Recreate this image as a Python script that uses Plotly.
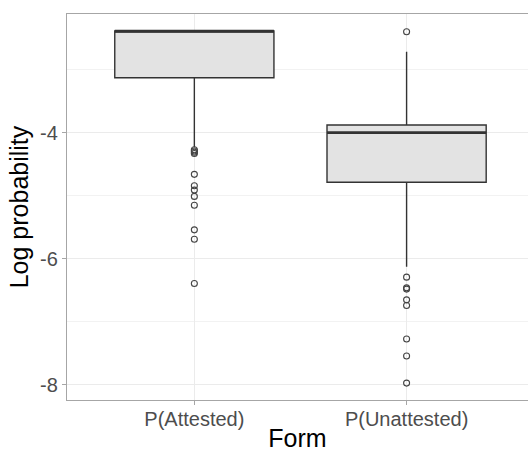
import plotly.graph_objects as go

categories = ["P(Attested)", "P(Unattested)"]
q1 = [-3.128, -4.786]
median = [-2.388, -4.0]
q3 = [-2.388, -3.878]
lowerfence = [-4.23, -6.124]
upperfence = [-2.388, -2.716]
outliers_attested = [-4.27, -4.29, -4.31, -4.33, -4.66, -4.84, -4.91, -5.01, -5.15, -5.54, -5.69, -6.39]
outliers_unattested = [-2.40, -6.29, -6.46, -6.48, -6.65, -6.74, -7.27, -7.54, -7.97]
y_ticks = [-8, -6, -4]
y_minor = [-7, -5, -3]

xpos = list(range(1, len(categories) + 1))
half = 0.375

fig = go.Figure()
fig.add_trace(go.Box(
    x=xpos, q1=q1, median=median, q3=q3,
    lowerfence=lowerfence, upperfence=upperfence,
    width=2 * half, whiskerwidth=0, fillcolor="#E3E3E3",
    line=dict(color="#333333", width=1.4),
    boxpoints=False, showlegend=False, hoverinfo="skip",
))

mx, my = [], []
for x, m in zip(xpos, median):
    mx += [x - half, x + half, None]
    my += [m, m, None]
fig.add_trace(go.Scatter(x=mx, y=my, mode="lines",
                         line=dict(color="#333333", width=2.8),
                         showlegend=False, hoverinfo="skip"))

ox, oy = [], []
for x, vals in zip(xpos, [outliers_attested, outliers_unattested]):
    ox += [x] * len(vals)
    oy += vals
fig.add_trace(go.Scatter(x=ox, y=oy, mode="markers",
                         marker=dict(symbol="circle-open", size=6, color="#444444",
                                     line=dict(width=1.1)),
                         showlegend=False, hoverinfo="skip"))

axis_line = "#A6A6A6"
grid = "#EBEBEB"
fig.update_layout(
    width=528, height=452,
    margin=dict(l=67, r=0, t=14, b=52),
    paper_bgcolor="white", plot_bgcolor="white",
    font=dict(family="Liberation Sans, Arial, sans-serif"),
    xaxis=dict(
        range=[0.4, 2.572], tickmode="array", tickvals=xpos, ticktext=categories,
        automargin=False,
        showgrid=True, gridcolor=grid, gridwidth=1, zeroline=False,
        showline=True, linecolor=axis_line, linewidth=1.2, mirror=True,
        ticks="outside", ticklen=4, tickcolor=axis_line,
        tickfont=dict(size=20, color="#4D4D4D"), ticklabelstandoff=-3,
        title=dict(text="Form", font=dict(size=25, color="black"), standoff=8),
    ),
    yaxis=dict(
        range=[-8.238, -2.118], tickmode="array", tickvals=y_ticks,
        ticktext=[str(v) for v in y_ticks],
        automargin=False,
        showgrid=True, gridcolor=grid, gridwidth=1, zeroline=False,
        showline=True, linecolor=axis_line, linewidth=1.2, mirror=False,
        ticks="outside", ticklen=4, tickcolor=axis_line,
        tickfont=dict(size=20, color="#4D4D4D"),
        minor=dict(tickvals=y_minor, showgrid=True, gridcolor="#F2F2F2", gridwidth=0.8, ticks=""),
        title=dict(text="Log probability", font=dict(size=25, color="black"), standoff=4),
    ),
)

fig.write_html("out.html")
